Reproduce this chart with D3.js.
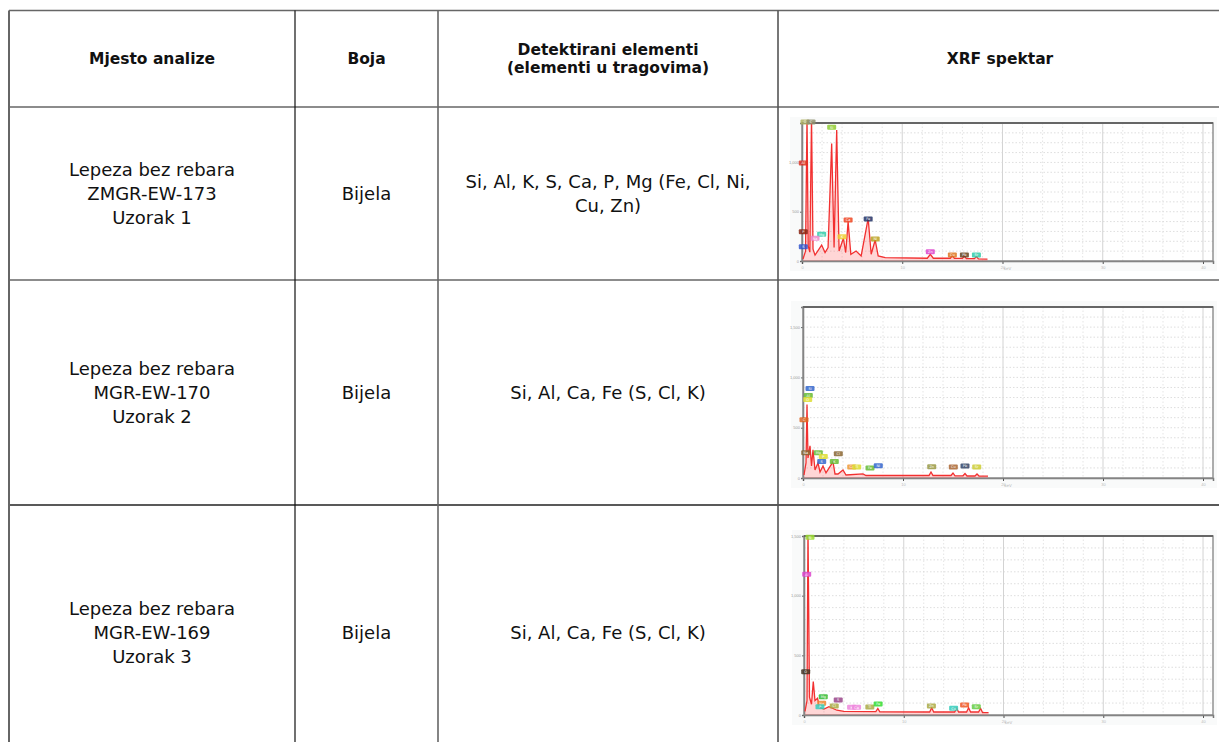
<!DOCTYPE html>
<html>
<head>
<meta charset="utf-8">
<script src="https://cdn.jsdelivr.net/npm/d3@7"></script>
<style>
  body { margin: 0; background: #fff; }
  svg { display: block; }
  .cell-text { font-family: 'DejaVu Sans', sans-serif; fill: #111; }
</style>
</head>
<body>
<div id="chart"></div>
<script>
/* Table content */
const headers = [['Mjesto analize'], ['Boja'], ['Detektirani elementi', '(elementi u tragovima)'], ['XRF spektar']];
const sites = [
  ['Lepeza bez rebara', 'ZMGR-EW-173', 'Uzorak 1'],
  ['Lepeza bez rebara', 'MGR-EW-170', 'Uzorak 2'],
  ['Lepeza bez rebara', 'MGR-EW-169', 'Uzorak 3']
];
const colours = ['Bijela', 'Bijela', 'Bijela'];
const elements = [
  ['Si, Al, K, S, Ca, P, Mg (Fe, Cl, Ni,', 'Cu, Zn)'],
  ['Si, Al, Ca, Fe (S, Cl, K)'],
  ['Si, Al, Ca, Fe (S, Cl, K)']
];

/* Spectra: [keV, counts] */
const energyTicks = [0, 10, 20, 30, 40];
const countMax = [1400, 1700, 1500];

const spectrum1 = [
  [0.1, 20], [0.35, 100], [0.5, 1450], [0.62, 150], [0.78, 90], [0.95, 1450], [1.1, 120], [1.3, 60],
  [1.63, 111], [1.96, 162], [2.3, 86], [2.6, 137], [2.96, 1193], [3.2, 137], [3.46, 1328], [3.7, 101],
  [4.13, 230], [4.36, 86], [4.6, 399], [4.87, 68], [5.4, 101], [5.9, 51], [6.6, 433], [6.9, 68],
  [7.3, 213], [7.6, 51], [8.3, 34], [12.5, 28], [12.8, 68], [13.1, 28], [14.8, 28], [15.0, 55],
  [15.2, 26], [16.0, 26], [16.2, 50], [16.4, 24], [17.2, 24], [17.4, 45], [17.6, 22], [18.5, 20]
];
const spectrum2 = [
  [0.1, 30], [0.3, 150], [0.4, 730], [0.5, 200], [0.7, 320], [0.85, 120], [1.0, 280], [1.2, 80],
  [1.5, 150], [1.7, 60], [2.0, 120], [2.3, 50], [3.0, 160], [3.2, 40], [3.5, 40], [4.0, 80],
  [4.3, 30], [6.0, 40], [6.3, 25], [12.6, 25], [12.8, 60], [13.0, 25], [14.8, 25], [15.0, 50],
  [15.2, 22], [16.0, 22], [16.2, 45], [16.4, 20], [17.2, 20], [17.4, 40], [17.6, 20], [18.5, 18]
];
const spectrum3 = [
  [0.1, 30], [0.3, 120], [0.4, 1550], [0.55, 150], [0.75, 90], [0.93, 280], [1.1, 120], [1.35, 140],
  [1.6, 60], [2.0, 50], [2.5, 70], [3.3, 40], [4.0, 30], [7.2, 28], [7.4, 55], [7.6, 26],
  [12.6, 25], [12.8, 60], [13.0, 25], [15.1, 25], [15.3, 55], [15.5, 25], [16.3, 25], [16.5, 60],
  [16.7, 25], [17.5, 25], [17.7, 55], [17.9, 20], [18.5, 20]
];

/* Peak tags: [keV, counts, colour, symbol] */
const tags1 = [
  [0.3, 1410, '#b0b060', 'O'], [0.9, 1410, '#909070', 'C'], [2.96, 1356, '#8fcc33', 'Si'],
  [4.6, 416, '#ee4422', 'Ca'], [6.6, 426, '#223366', 'Fe'], [7.3, 223, '#bba020', 'Ni'],
  [1.96, 271, '#33ccaa', 'Mg'], [1.3, 230, '#ee88cc', 'Na'], [4.0, 246, '#eecc33', 'K'],
  [12.8, 94, '#dd44cc', 'Zn'], [15.0, 61, '#dd7722', 'Cu'], [16.2, 61, '#664422', 'Pb'],
  [17.4, 61, '#33ccaa', 'Sr'], [0.13, 994, '#dd3322', 'Al'], [0.13, 297, '#882211', 'P'],
  [0.13, 145, '#3355cc', 'S']
];
const tags2 = [
  [0.7, 890, '#3366cc', 'Si'], [0.53, 820, '#66bb33', 'Al'], [0.47, 780, '#dddd33', 'O'],
  [0.1, 580, '#dd6622', 'C'], [0.27, 250, '#886633', 'Na'], [1.53, 250, '#66bb33', 'Mg'],
  [2.03, 213, '#dddd33', 'P'], [1.87, 163, '#3366cc', 'S'], [3.53, 240, '#886633', 'Cl'],
  [3.13, 163, '#66bb33', 'K'], [4.87, 110, '#ee9933', 'Ca'], [5.37, 110, '#dddd33', 'Ti'],
  [6.7, 100, '#66bb33', 'Fe'], [7.53, 123, '#3366cc', 'Ni'], [12.87, 113, '#999944', 'Zn'],
  [15.03, 110, '#aa6633', 'Cu'], [16.2, 120, '#334466', 'Pb'], [17.37, 110, '#cccc33', 'Sr']
];
const tags3 = [
  [0.6, 1489, '#99dd33', 'Si'], [0.27, 1179, '#dd44cc', 'Al'], [0.17, 363, '#443322', 'O'],
  [1.93, 153, '#33bb33', 'Mg'], [1.77, 98, '#ee8833', 'Na'], [1.6, 70, '#33ccbb', 'P'],
  [3.43, 126, '#994488', 'S'], [3.03, 75, '#aaaa44', 'Cl'], [4.77, 64, '#ee88dd', 'K'],
  [5.27, 64, '#ee88dd', 'Ca'], [6.6, 67, '#aaaa44', 'Ti'], [7.43, 92, '#33dd33', 'Fe'],
  [12.77, 75, '#aaaa44', 'Zn'], [15.0, 56, '#33ccbb', 'Cu'], [16.1, 84, '#ee5522', 'Pb'],
  [17.27, 70, '#66cc44', 'Sr']
];

const spectra = [spectrum1, spectrum2, spectrum3];
const tags = [tags1, tags2, tags3];

/* Layout */
const width = 1219;
const height = 742;
const colEdges = [9, 295, 438, 778, 1222];
const rowEdges = [10.5, 107, 280, 505, 760];
const plotBoxes = [
  { x0: 802, x1: 1213, y0: 123, y1: 261 },
  { x0: 803, x1: 1213, y0: 307, y1: 478 },
  { x0: 804, x1: 1213, y0: 536, y1: 715 }
];

const svg = d3.select('#chart').append('svg')
  .attr('width', width)
  .attr('height', height);

/* Table grid */
const grid = svg.append('g').attr('class', 'table-grid');

grid.selectAll('line.h')
  .data(rowEdges.slice(0, 4)).enter()
  .append('line')
  .attr('class', 'h')
  .attr('x1', colEdges[0])
  .attr('x2', width)
  .attr('y1', d => d)
  .attr('y2', d => d)
  .attr('stroke', (d, i) => i === 3 ? '#222' : '#666')
  .attr('stroke-width', 1.6);

const vStyle = [['#666', 2], ['#111', 1.2], ['#666', 1.6], ['#555', 1.6]];
grid.selectAll('line.v')
  .data(colEdges.slice(0, 4)).enter()
  .append('line')
  .attr('class', 'v')
  .attr('x1', d => d)
  .attr('x2', d => d)
  .attr('y1', rowEdges[0])
  .attr('y2', height)
  .attr('stroke', (d, i) => vStyle[i][0])
  .attr('stroke-width', (d, i) => vStyle[i][1]);

/* Cell text */
function cellText(g, lines, col, row, opts) {
  const cx = (colEdges[col] + colEdges[col + 1]) / 2;
  const cy = (rowEdges[row] + rowEdges[row + 1]) / 2 + opts.shift;
  const top = cy - (lines.length - 1) * opts.lh / 2;
  g.append('text')
    .attr('class', 'cell-text')
    .attr('text-anchor', 'middle')
    .style('font-size', opts.size + 'px')
    .style('font-weight', opts.weight)
    .selectAll('tspan')
    .data(lines).enter()
    .append('tspan')
    .attr('x', cx)
    .attr('y', (d, i) => top + i * opts.lh)
    .attr('dy', '0.35em')
    .text(d => d);
}

const texts = svg.append('g').attr('class', 'texts');
const headOpts = { size: 15.5, weight: 700, lh: 18, shift: 0 };
const bodyOpts = { size: 18, weight: 400, lh: 24, shift: 0 };

headers.forEach((h, c) => cellText(texts, h, c, 0, headOpts));
sites.forEach((s, r) => {
  cellText(texts, s, 0, r + 1, bodyOpts);
  cellText(texts, [colours[r]], 1, r + 1, bodyOpts);
  cellText(texts, elements[r], 2, r + 1, bodyOpts);
});

/* Spectrum thumbnails */
spectra.forEach((data, k) => {
  const box = plotBoxes[k];

  const xScale = d3.scaleLinear()
    .domain([0, 41])
    .range([box.x0, box.x1]);

  const yScale = d3.scaleLinear()
    .domain([0, countMax[k]])
    .range([box.y1, box.y0]);

  const g = svg.append('g').attr('class', 'spectrum');

  g.append('rect')
    .attr('x', box.x0 - 12)
    .attr('y', box.y0 - 6)
    .attr('width', box.x1 - box.x0 + 16)
    .attr('height', box.y1 - box.y0 + 16)
    .attr('fill', '#f9fafa');

  g.append('rect')
    .attr('x', box.x0)
    .attr('y', box.y0)
    .attr('width', box.x1 - box.x0)
    .attr('height', box.y1 - box.y0)
    .attr('fill', '#fff');

  /* dotted grid */
  const xGrid = d3.range(2, 41, 2);
  const yGrid = d3.range(100, countMax[k], 100);

  g.append('g').selectAll('line')
    .data(xGrid).enter()
    .append('line')
    .attr('x1', d => xScale(d))
    .attr('x2', d => xScale(d))
    .attr('y1', box.y0)
    .attr('y2', box.y1)
    .attr('stroke', d => d % 10 === 0 ? '#c8c8c8' : '#dedede')
    .attr('stroke-width', 0.8)
    .attr('stroke-dasharray', d => d % 10 === 0 ? null : '1.5,2');

  g.append('g').selectAll('line')
    .data(yGrid).enter()
    .append('line')
    .attr('x1', box.x0)
    .attr('x2', box.x1)
    .attr('y1', d => yScale(d))
    .attr('y2', d => yScale(d))
    .attr('stroke', '#d6d6d6')
    .attr('stroke-width', 0.8)
    .attr('stroke-dasharray', '1.5,2');

  /* axes */
  const xAxis = d3.axisBottom(xScale)
    .tickValues(energyTicks)
    .tickSize(3)
    .tickPadding(2)
    .tickFormat(d => d);

  const yAxis = d3.axisLeft(yScale)
    .tickValues(d3.range(0, countMax[k] + 1, 500))
    .tickSize(2)
    .tickPadding(1);

  g.append('g')
    .attr('transform', `translate(0, ${box.y1})`)
    .call(xAxis)
    .call(a => {
      a.select('.domain').attr('stroke', '#777').attr('stroke-width', 1.5);
      a.selectAll('.tick line').attr('stroke', '#555');
      a.selectAll('.tick text').attr('fill', '#bbb').style('font-size', '4px');
    });

  g.append('g')
    .attr('transform', `translate(${box.x0}, 0)`)
    .call(yAxis)
    .call(a => {
      a.select('.domain').attr('stroke', '#777').attr('stroke-width', 1.5);
      a.selectAll('.tick line').attr('stroke', '#666');
      a.selectAll('.tick text').attr('fill', '#999').style('font-size', '4px');
    });

  g.append('text')
    .attr('x', xScale(20.5))
    .attr('y', box.y1 + 9)
    .attr('text-anchor', 'middle')
    .attr('fill', '#bbb')
    .style('font-size', '4px')
    .style('font-family', 'DejaVu Sans')
    .text('keV');

  /* frame */
  g.append('rect')
    .attr('x', box.x0)
    .attr('y', box.y0)
    .attr('width', box.x1 - box.x0)
    .attr('height', box.y1 - box.y0)
    .attr('fill', 'none')
    .attr('stroke', '#8a8a8a')
    .attr('stroke-width', 1.4);

  g.append('line')
    .attr('x1', box.x0)
    .attr('x2', box.x1)
    .attr('y1', box.y0)
    .attr('y2', box.y0)
    .attr('stroke', '#666')
    .attr('stroke-width', 2.2);

  /* spectrum line */
  const clipId = 'clip' + k;
  g.append('clipPath')
    .attr('id', clipId)
    .append('rect')
    .attr('x', box.x0)
    .attr('y', box.y0)
    .attr('width', box.x1 - box.x0)
    .attr('height', box.y1 - box.y0);

  const area = d3.area()
    .x(d => xScale(d[0]))
    .y0(box.y1)
    .y1(d => yScale(d[1]));

  const line = d3.line()
    .x(d => xScale(d[0]))
    .y(d => yScale(d[1]));

  g.append('path')
    .attr('d', area(data))
    .attr('clip-path', `url(#${clipId})`)
    .style('fill', 'rgba(255, 90, 90, 0.25)');

  g.append('path')
    .attr('d', line(data))
    .attr('clip-path', `url(#${clipId})`)
    .style('fill', 'none')
    .style('stroke', '#f23030')
    .style('stroke-width', '1.3px');

  /* peak tags */
  const tag = g.append('g').selectAll('g')
    .data(tags[k]).enter()
    .append('g')
    .attr('transform', d => `translate(${xScale(d[0])}, ${yScale(d[1])})`);

  tag.append('rect')
    .attr('x', -4.5)
    .attr('y', -2.5)
    .attr('width', 9)
    .attr('height', 5)
    .attr('rx', 1)
    .attr('fill', d => d[2])
    .attr('opacity', 0.85);

  tag.append('text')
    .attr('text-anchor', 'middle')
    .attr('dy', '0.35em')
    .attr('fill', '#fff')
    .style('font-size', '3.5px')
    .style('font-family', 'DejaVu Sans')
    .text(d => d[3]);
});
</script>
</body>
</html>
